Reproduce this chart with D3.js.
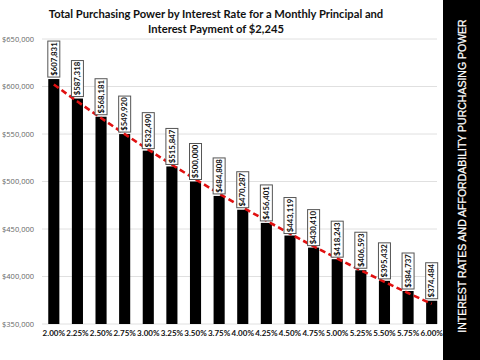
<!DOCTYPE html>
<html><head><meta charset="utf-8">
<script src="https://cdn.jsdelivr.net/npm/d3@7"></script>
<style>body{margin:0;background:#fff}svg{display:block}</style>
</head><body>
<script>
const rates = ["2.00%","2.25%","2.50%","2.75%","3.00%","3.25%","3.50%","3.75%","4.00%","4.25%","4.50%","4.75%","5.00%","5.25%","5.50%","5.75%","6.00%"];
const values = [607831,587318,568181,549920,532490,515847,500000,484808,470287,456401,443119,430410,418243,406593,395432,384737,374484];
const yTicks = [350000,400000,450000,500000,550000,600000,650000];
const titleLines = ["Total Purchasing Power by Interest Rate for a Monthly Principal and","Interest Payment of $2,245"];
const sideText = "INTEREST RATES AND AFFORDABILITY PURCHASING POWER";

const W=480,H=360;
const svg=d3.select("body").append("svg").attr("width",W).attr("height",H);
const x=d3.scaleBand().domain(rates).range([42,443.5]).paddingInner(0.53).paddingOuter(0.265);
const y=d3.scaleLinear().domain([350000,650000]).range([324,39]);
const fmt=d3.format("$,");

// gridlines
svg.append("g").selectAll("line").data(yTicks).join("line")
 .attr("x1",42).attr("x2",437).attr("y1",d=>y(d)).attr("y2",d=>y(d))
 .attr("stroke","#e0e0e0").attr("stroke-width",1);

// y axis labels
const ya=svg.append("g").attr("transform","translate(34,0)")
 .call(d3.axisLeft(y).tickValues(yTicks).tickFormat(fmt).tickSize(0).tickPadding(0));
ya.select(".domain").remove();
ya.selectAll("text").attr("font-family","'Open Sans',sans-serif").attr("font-size",7.5).attr("fill","#666");

// bars
svg.append("g").selectAll("rect").data(values).join("rect")
 .attr("x",(d,i)=>x(rates[i])).attr("width",x.bandwidth())
 .attr("y",d=>y(d)).attr("height",d=>y(350000)-y(d)).attr("fill","#000");

// x axis labels
const xa=svg.append("g").attr("transform","translate(0,330)")
 .call(d3.axisBottom(x).tickSize(0).tickPadding(0));
xa.select(".domain").remove();
xa.selectAll("text").attr("font-family","Lato,'Open Sans',sans-serif").attr("font-weight","bold").attr("font-size",8).attr("fill","#111");

// exponential trendline (least squares on log values)
const n=values.length, xs=d3.range(n);
const lv=values.map(Math.log);
const mx=d3.mean(xs), my=d3.mean(lv);
const slope=d3.sum(xs,(v,i)=>(v-mx)*(lv[i]-my))/d3.sum(xs,v=>(v-mx)*(v-mx));
const icp=my-slope*mx;
const cx=i=>x(rates[i])+x.bandwidth()/2;
svg.append("path").datum(xs)
 .attr("d",d3.line().x(i=>cx(i)).y(i=>y(Math.exp(icp+slope*i))))
 .attr("fill","none").attr("stroke","#e01010").attr("stroke-width",2.6).attr("stroke-dasharray","6,3.5");

// data labels
const lab=svg.append("g").selectAll("g").data(values).join("g")
 .attr("transform",(d,i)=>`translate(${cx(i)},${y(d)-2})`);
lab.append("rect").attr("x",-6).attr("y",-36).attr("width",12).attr("height",36)
 .attr("fill","#fff").attr("stroke","#555").attr("stroke-width",1);
lab.append("text").attr("transform","rotate(-90)").attr("x",18).attr("y",0).attr("dy","0.35em")
 .attr("text-anchor","middle").attr("font-family","Lato,'Open Sans',sans-serif").attr("font-weight","bold")
 .attr("font-size",7.8).attr("fill","#111").text(d=>fmt(d));

// title
svg.append("g").selectAll("text").data(titleLines).join("text")
 .attr("x",216).attr("y",(d,i)=>18+i*15).attr("text-anchor","middle")
 .attr("font-family","Lato,'Open Sans',sans-serif").attr("font-weight","bold").attr("font-size",11.2).attr("fill","#111")
 .text(d=>d);

// side band
svg.append("rect").attr("x",443).attr("y",0).attr("width",37).attr("height",H).attr("fill","#000");
svg.append("text").attr("transform","translate(462,176) rotate(-90)").attr("text-anchor","middle").attr("dy","0.35em")
 .attr("font-family","'Liberation Sans',Arial,sans-serif").attr("font-size",10.5).attr("fill","#fff")
 .attr("stroke","#fff").attr("stroke-width",0.25)
 .text(sideText);
</script>
</body></html>
